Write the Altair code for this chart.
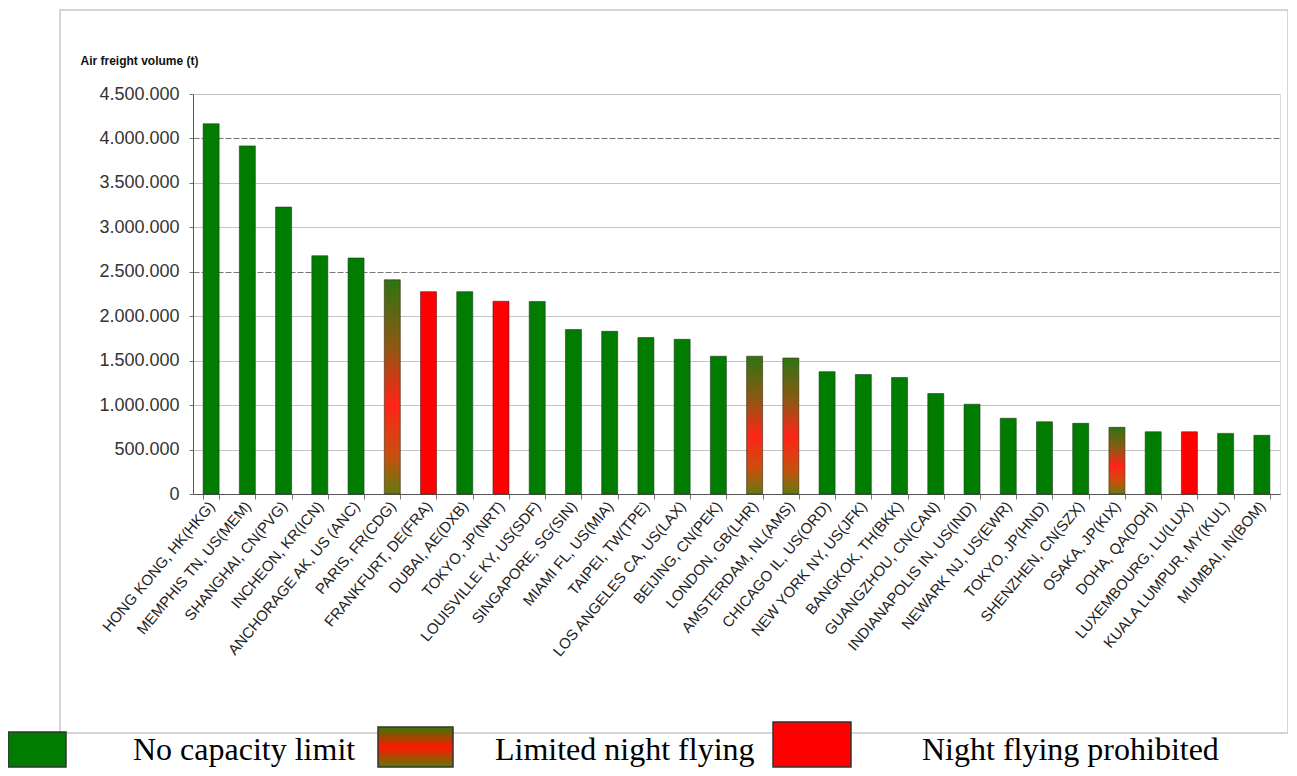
import altair as alt
import pandas as pd

categories = [
    "HONG KONG, HK(HKG)", "MEMPHIS TN, US(MEM)", "SHANGHAI, CN(PVG)", "INCHEON, KR(ICN)",
    "ANCHORAGE AK, US (ANC)", "PARIS, FR(CDG)", "FRANKFURT, DE(FRA)", "DUBAI, AE(DXB)",
    "TOKYO, JP(NRT)", "LOUISVILLE KY, US(SDF)", "SINGAPORE, SG(SIN)", "MIAMI FL, US(MIA)",
    "TAIPEI, TW(TPE)", "LOS ANGELES CA, US(LAX)", "BEIJING, CN(PEK)", "LONDON, GB(LHR)",
    "AMSTERDAM, NL(AMS)", "CHICAGO IL, US(ORD)", "NEW YORK NY, US(JFK)", "BANGKOK, TH(BKK)",
    "GUANGZHOU, CN(CAN)", "INDIANAPOLIS IN, US(IND)", "NEWARK NJ, US(EWR)", "TOKYO, JP(HND)",
    "SHENZHEN, CN(SZX)", "OSAKA, JP(KIX)", "DOHA, QA(DOH)", "LUXEMBOURG, LU(LUX)",
    "KUALA LUMPUR, MY(KUL)", "MUMBAI, IN(BOM)",
]
volumes = [
    4165000, 3916000, 3228000, 2680000, 2655000, 2410000, 2276000, 2276000,
    2168000, 2166000, 1850000, 1830000, 1760000, 1740000, 1550000, 1550000,
    1530000, 1376000, 1344000, 1310000, 1130000, 1010000, 852000, 812000,
    795000, 750000, 700000, 700000, 682000, 660000,
]
status = [
    "none", "none", "none", "none", "none", "limited", "prohibited", "none",
    "prohibited", "none", "none", "none", "none", "none", "none", "limited",
    "limited", "none", "none", "none", "none", "none", "none", "none",
    "none", "limited", "none", "prohibited", "none", "none",
]
y_ticks = [0, 500000, 1000000, 1500000, 2000000, 2500000, 3000000, 3500000, 4000000, 4500000]
legend_labels = ["No capacity limit", "Limited night flying", "Night flying prohibited"]
axis_title = "Air freight volume (t)"

GREEN = "#007d00"
RED = "#ff0000"

df = pd.DataFrame({"airport": categories, "volume": volumes, "status": status})

x_enc = alt.X(
    "airport:N", sort=categories, title=None,
    scale=alt.Scale(paddingInner=0.56, paddingOuter=0.28),
    axis=alt.Axis(
        labelAngle=-50, labelAlign="right", labelBaseline="middle",
        labelFont="Liberation Sans", labelFontSize=15, labelColor="#222222",
        labelPadding=4, labelLimit=400, labelOverlap=False,
        tickBand="extent", tickSize=5, tickColor="#777777",
        domainColor="#555555", grid=False,
    ),
)
y_enc = alt.Y(
    "volume:Q",
    scale=alt.Scale(domain=[0, 4500000], nice=False),
    axis=alt.Axis(
        values=y_ticks,
        labelExpr="replace(format(datum.value, ','), /,/g, '.')",
        labelFont="Liberation Sans", labelFontSize=18, labelColor="#333333",
        labelPadding=10, tickSize=4, tickColor="#777777",
        domainColor="#555555",
        title=axis_title, titleAngle=0, titleAlign="left", titleBaseline="middle",
        titleX=-113, titleY=-34, titleFont="Liberation Sans", titleFontSize=12,
        titleFontWeight="bold", titleColor="#111111",
        gridColor={"condition": {"test": "datum.value === 4000000 || datum.value === 2500000", "value": "#777777"}, "value": "#c4c4c4"},
        gridDash={"condition": {"test": "datum.value === 4000000 || datum.value === 2500000", "value": [6, 2]}, "value": []},
        gridWidth=1,
    ),
)

bar_gradient = alt.Gradient(
    gradient="linear", x1=0, y1=0, x2=0, y2=1,
    stops=[
        alt.GradientStop(offset=0, color="#2e7412"),
        alt.GradientStop(offset=0.3, color="#8a5a12"),
        alt.GradientStop(offset=0.58, color="#ff2418"),
        alt.GradientStop(offset=0.82, color="#c8500e"),
        alt.GradientStop(offset=1, color="#627a10"),
    ],
)
legend_gradient = alt.Gradient(
    gradient="linear", x1=0, y1=0, x2=0, y2=1,
    stops=[
        alt.GradientStop(offset=0, color="#3a7800"),
        alt.GradientStop(offset=0.5, color="#ff1800"),
        alt.GradientStop(offset=1, color="#5e7a00"),
    ],
)

base = alt.Chart(df).encode(x=x_enc, y=y_enc)

bars_none = base.transform_filter(alt.datum.status == "none").mark_bar(
    size=16, color=GREEN, stroke="#1c3a1c", strokeWidth=0.6)
bars_prohib = base.transform_filter(alt.datum.status == "prohibited").mark_bar(
    size=16, color=RED, stroke="#5a1a1a", strokeWidth=0.6)
bars_limited = base.transform_filter(alt.datum.status == "limited").mark_bar(
    size=16, color=bar_gradient, stroke="#3a2a10", strokeWidth=0.6)

one = lambda i: pd.DataFrame({"label": [legend_labels[i]]})
frame = pd.DataFrame({"k": [0]})

border = alt.Chart(frame).mark_rect(fill="transparent", stroke="#c8c8c8", strokeWidth=1.5).encode(
    x=alt.value(-133), x2=alt.value(1095), y=alt.value(-84), y2=alt.value(639))

sw_green = alt.Chart(one(0)).mark_rect(color=GREEN, stroke="#333333", strokeWidth=1.5).encode(
    x=alt.value(-185), x2=alt.value(-127), y=alt.value(638), y2=alt.value(673))
sw_limited = alt.Chart(one(1)).mark_rect(color=legend_gradient, stroke="#333333", strokeWidth=1.5).encode(
    x=alt.value(185), x2=alt.value(260), y=alt.value(633), y2=alt.value(673))
sw_red = alt.Chart(one(2)).mark_rect(color=RED, stroke="#333333", strokeWidth=1.5).encode(
    x=alt.value(580), x2=alt.value(658), y=alt.value(628), y2=alt.value(673))

txt_kw = dict(font="Liberation Serif", fontSize=32, color="#000000", align="left", baseline="alphabetic")
t0 = alt.Chart(one(0)).mark_text(**txt_kw).encode(text="label:N", x=alt.value(-60), y=alt.value(666))
t1 = alt.Chart(one(1)).mark_text(**txt_kw).encode(text="label:N", x=alt.value(302), y=alt.value(666))
t2 = alt.Chart(one(2)).mark_text(**txt_kw).encode(text="label:N", x=alt.value(729), y=alt.value(666))

chart = alt.layer(
    border, bars_none, bars_prohib, bars_limited, sw_green, sw_limited, sw_red, t0, t1, t2
).properties(
    width=1087, height=400,
    autosize=alt.AutoSizeParams(type="none"),
    padding={"left": 185, "top": 86, "right": 8, "bottom": 274},
).configure_view(stroke="#a0a0a0", strokeWidth=1).configure(background="white")

chart.save("out.html", embed_options={"renderer": "svg", "actions": False})
